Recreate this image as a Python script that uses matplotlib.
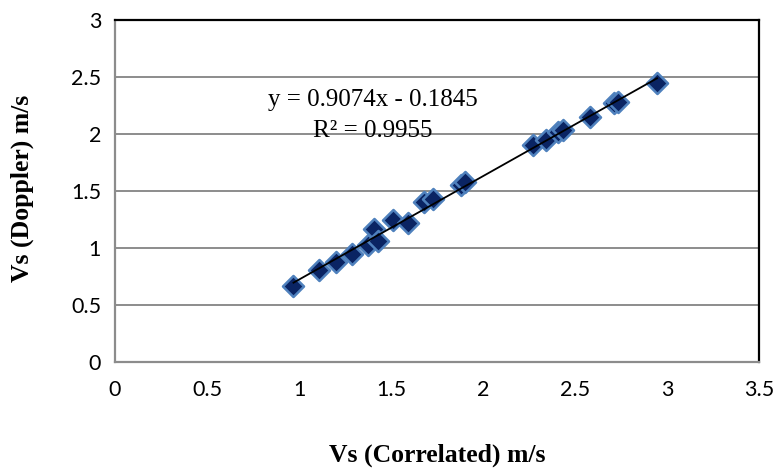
import matplotlib
matplotlib.use("Agg")
import matplotlib.pyplot as plt
import numpy as np

vs_correlated = [0.97, 1.11, 1.20, 1.29, 1.375, 1.41, 1.43, 1.51, 1.59, 1.68, 1.73,
                 1.88, 1.90, 2.27, 2.34, 2.41, 2.435, 2.58, 2.71, 2.735, 2.946]
vs_doppler = [0.67, 0.81, 0.88, 0.95, 1.03, 1.17, 1.06, 1.25, 1.22, 1.40, 1.43,
              1.55, 1.58, 1.90, 1.95, 2.02, 2.035, 2.15, 2.27, 2.28, 2.45]
slope, intercept = 0.9074, -0.1845
eq_text = "y = 0.9074x - 0.1845"
r2_text = "R² = 0.9955"
xticks = [0, 0.5, 1, 1.5, 2, 2.5, 3, 3.5]
yticks = [0, 0.5, 1, 1.5, 2, 2.5, 3]

fig = plt.figure(figsize=(7.75, 4.71), dpi=100)
W, H = 775, 471
ax = fig.add_axes([115 / W, 1 - 362 / H, (759 - 115) / W, (362 - 20) / H])

ax.set_xlim(0, 3.5)
ax.set_ylim(0, 3)
ax.set_xticks(xticks)
ax.set_yticks(yticks)
ax.set_xticklabels([f"{t:g}" for t in xticks])
ax.set_yticklabels([f"{t:g}" for t in yticks])
ax.tick_params(length=0, labelsize=15.5)
ax.tick_params(axis="x", pad=13)
ax.tick_params(axis="y", pad=10)
for lab in ax.get_xticklabels() + ax.get_yticklabels():
    lab.set_family(["Lato", "DejaVu Sans"])

for t in yticks[1:-1]:
    ax.axhline(t, color="#8c8c8c", lw=1.4, zorder=1)

for s in ["left", "bottom"]:
    ax.spines[s].set_color("#8c8c8c")
    ax.spines[s].set_linewidth(1.6)
for s in ["top", "right"]:
    ax.spines[s].set_color("black")
    ax.spines[s].set_linewidth(1.6)

ax.scatter(vs_correlated, vs_doppler, marker="D", s=115, facecolor="#0A2463",
           edgecolor="#4F81BD", linewidth=1.8, zorder=3)

xl = np.array([min(vs_correlated), max(vs_correlated)])
ax.plot(xl, slope * xl + intercept, color="black", lw=1.3, zorder=4)

ax.text(1.40, 2.30, eq_text, ha="center", va="center", fontsize=18,
        family=["Liberation Serif", "DejaVu Serif"])
ax.text(1.40, 2.03, r2_text, ha="center", va="center", fontsize=18,
        family=["Liberation Serif", "DejaVu Serif"])

fig.text(437 / W, 1 - 455 / H, "Vs (Correlated) m/s", ha="center", va="center",
         fontsize=18.5, fontweight="bold", family=["Liberation Serif", "DejaVu Serif"])
fig.text(22 / W, 1 - 188 / H, "Vs (Doppler) m/s", ha="center", va="center",
         rotation=90, fontsize=18.5, fontweight="bold",
         family=["Liberation Serif", "DejaVu Serif"])

fig.savefig("out.png", dpi=100)
